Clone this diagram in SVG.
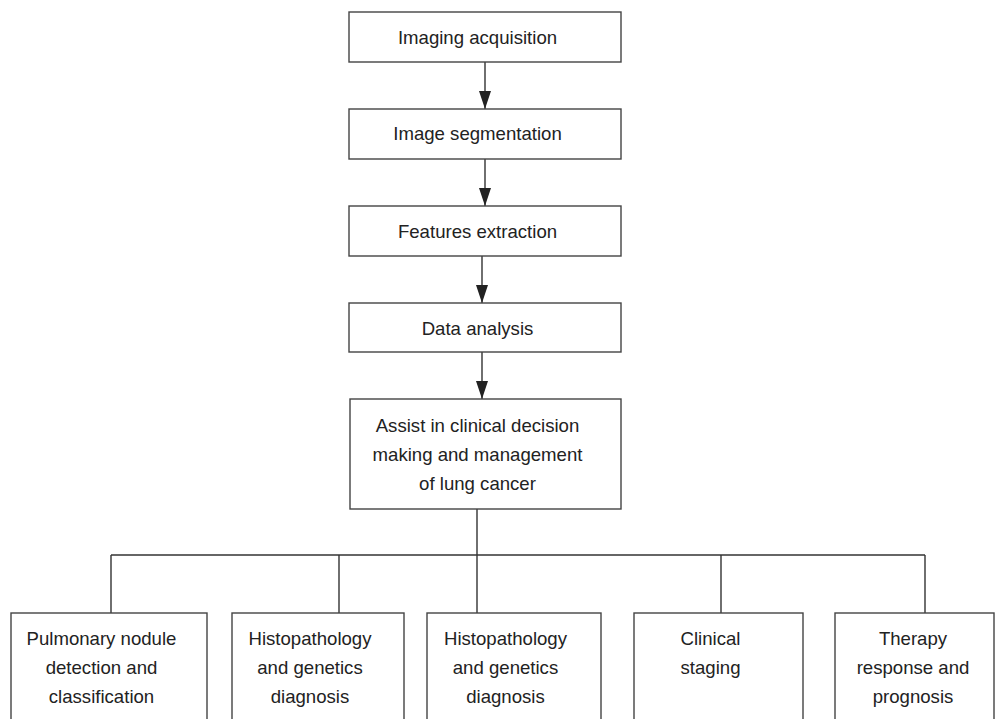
<svg xmlns="http://www.w3.org/2000/svg" width="995" height="719" viewBox="0 0 995 719">
<defs>
<style>
.box{fill:#fff;stroke:#444;stroke-width:1.4}
.ln{fill:none;stroke:#333;stroke-width:1.4}
.t{font-family:"Liberation Sans",Arial,sans-serif;font-size:18.6px;fill:#222;text-anchor:middle}
</style>
<marker id="ah" viewBox="0 0 18 12" refX="18" refY="6" markerWidth="18" markerHeight="12" markerUnits="userSpaceOnUse" orient="auto">
<path d="M0,0 L18,6 L0,12 Z" fill="#222"/>
</marker>
</defs>
<rect width="995" height="719" fill="#fff"/>
<g id="connectors">
<line class="ln" x1="485" y1="62" x2="485" y2="109" marker-end="url(#ah)"/>
<line class="ln" x1="485" y1="159" x2="485" y2="206" marker-end="url(#ah)"/>
<line class="ln" x1="482" y1="256" x2="482" y2="303" marker-end="url(#ah)"/>
<line class="ln" x1="482" y1="352" x2="482" y2="399" marker-end="url(#ah)"/>
<line class="ln" x1="477" y1="509" x2="477" y2="613"/>
<line class="ln" x1="111" y1="555" x2="925" y2="555"/>
<line class="ln" x1="111" y1="555" x2="111" y2="613"/>
<line class="ln" x1="339" y1="555" x2="339" y2="613"/>
<line class="ln" x1="721" y1="555" x2="721" y2="613"/>
<line class="ln" x1="925" y1="555" x2="925" y2="613"/>
</g>
<g id="n1"><rect class="box" x="349" y="12" width="272" height="50"/><text class="t" x="477.5" y="44">Imaging acquisition</text></g>
<g id="n2"><rect class="box" x="349" y="109" width="272" height="50"/><text class="t" x="477.5" y="140">Image segmentation</text></g>
<g id="n3"><rect class="box" x="349" y="206" width="272" height="50"/><text class="t" x="477.5" y="238">Features extraction</text></g>
<g id="n4"><rect class="box" x="349" y="303" width="272" height="49"/><text class="t" x="477.5" y="335">Data analysis</text></g>
<g id="n5"><rect class="box" x="350" y="399" width="271" height="110"/>
<text class="t" x="477.5" y="432">Assist in clinical decision</text>
<text class="t" x="477.5" y="461">making and management</text>
<text class="t" x="477.5" y="490">of lung cancer</text></g>
<g id="b1"><rect class="box" x="11" y="613" width="196" height="120"/>
<text class="t" x="101.5" y="645">Pulmonary nodule</text>
<text class="t" x="101.5" y="674">detection and</text>
<text class="t" x="101.5" y="703">classification</text></g>
<g id="b2"><rect class="box" x="232" y="613" width="172" height="120"/>
<text class="t" x="310" y="645">Histopathology</text>
<text class="t" x="310" y="674">and genetics</text>
<text class="t" x="310" y="703">diagnosis</text></g>
<g id="b3"><rect class="box" x="427" y="613" width="174" height="120"/>
<text class="t" x="505.5" y="645">Histopathology</text>
<text class="t" x="505.5" y="674">and genetics</text>
<text class="t" x="505.5" y="703">diagnosis</text></g>
<g id="b4"><rect class="box" x="634" y="613" width="169" height="120"/>
<text class="t" x="710.5" y="645">Clinical</text>
<text class="t" x="710.5" y="674">staging</text></g>
<g id="b5"><rect class="box" x="835" y="613" width="159" height="120"/>
<text class="t" x="913" y="645">Therapy</text>
<text class="t" x="913" y="674">response and</text>
<text class="t" x="913" y="703">prognosis</text></g>
</svg>
